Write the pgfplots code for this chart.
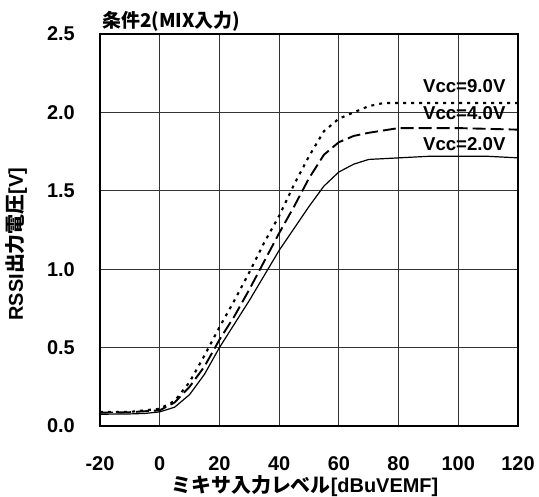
\documentclass[border=0pt]{standalone}
\usepackage{fontspec}
\setmainfont{Liberation Sans}
\newfontfamily\jp{Noto Sans CJK JP}
\usepackage{pgfplots}
\pgfplotsset{compat=1.18}

\begin{document}
\begin{tikzpicture}
\begin{axis}[
  name=ax,
  width=418bp, height=392bp, scale only axis,
  xmin=-20, xmax=120, ymin=0, ymax=2.5,
  xtick={-20,0,20,40,60,80,100,120},
  ytick={0,0.5,1,1.5,2,2.5},
  clip mode=individual,
  grid=major, grid style={black!80, line width=0.8bp},
  axis line style={black, line width=1.2bp},
  major tick length=0pt,
  /pgf/number format/assume math mode=true,
  every tick label/.append style={font=\fontsize{20}{23}\selectfont\bfseries, inner sep=0pt},
  xticklabel style={anchor=center, yshift=-38bp},
  yticklabel style={anchor=east, xshift=-25bp,
    /pgf/number format/fixed, /pgf/number format/fixed zerofill,
    /pgf/number format/precision=1},
  every axis x label/.style={at={(axis description cs:0.49,-0.152)}, anchor=center,
    font=\fontsize{20}{23}\selectfont\bfseries},
  every axis y label/.style={at={(axis description cs:-0.2,0.464)}, anchor=center, rotate=90,
    font=\fontsize{20}{23}\selectfont\bfseries},
  xlabel={{\jp ミキサ入力レベル}[dBuVEMF]},
  ylabel={RSSI{\jp 出力電圧}[V]},
]
% Vcc=2.0V
\addplot[black, line width=1.2bp] coordinates {
  (-20,0.075) (-10,0.077) (-5,0.08) (0,0.09) (5,0.12) (10,0.20) (15,0.33)
  (20,0.50) (25,0.65) (30,0.80) (35,0.96) (40,1.12) (45,1.26) (50,1.40)
  (55,1.53) (60,1.62) (65,1.67) (70,1.70) (80,1.71) (90,1.72) (100,1.72)
  (110,1.72) (120,1.71)
};
% Vcc=4.0V
\addplot[black, line width=1.9bp, dash pattern=on 13bp off 5bp] coordinates {
  (-20,0.085) (-10,0.088) (0,0.10) (5,0.15) (10,0.25) (15,0.38) (20,0.55)
  (25,0.70) (30,0.87) (35,1.05) (40,1.23) (45,1.40) (50,1.58) (55,1.73)
  (60,1.81) (65,1.85) (70,1.87) (80,1.90) (100,1.90) (120,1.89)
};
% Vcc=9.0V
\addplot[black, line width=2.1bp, dash pattern=on 3bp off 5bp] coordinates {
  (-20,0.09) (-10,0.09) (0,0.11) (5,0.16) (10,0.28) (15,0.45) (20,0.63)
  (25,0.80) (30,0.98) (35,1.17) (40,1.34) (45,1.54) (50,1.72) (55,1.88)
  (60,1.96) (65,2.00) (70,2.04) (75,2.06) (80,2.06) (100,2.06) (120,2.06)
};
\node[font=\fontsize{18.7}{21}\selectfont\bfseries] at (axis cs:102,2.17) {Vcc=9.0V};
\node[font=\fontsize{18.7}{21}\selectfont\bfseries] at (axis cs:102,1.995) {Vcc=4.0V};
\node[font=\fontsize{18.7}{21}\selectfont\bfseries] at (axis cs:102,1.80) {Vcc=2.0V};
\node[anchor=base west, inner sep=0pt, font=\fontsize{19}{22}\selectfont\bfseries]
  at ([xshift=2bp,yshift=6bp]rel axis cs:0,1) {\jp 条件2(MIX入力)};
\end{axis}
\pgfresetboundingbox
\path[use as bounding box] ([xshift=-100bp,yshift=-71bp]ax.south west)
  rectangle ([xshift=21bp,yshift=34bp]ax.north east);
\end{tikzpicture}
\end{document}
